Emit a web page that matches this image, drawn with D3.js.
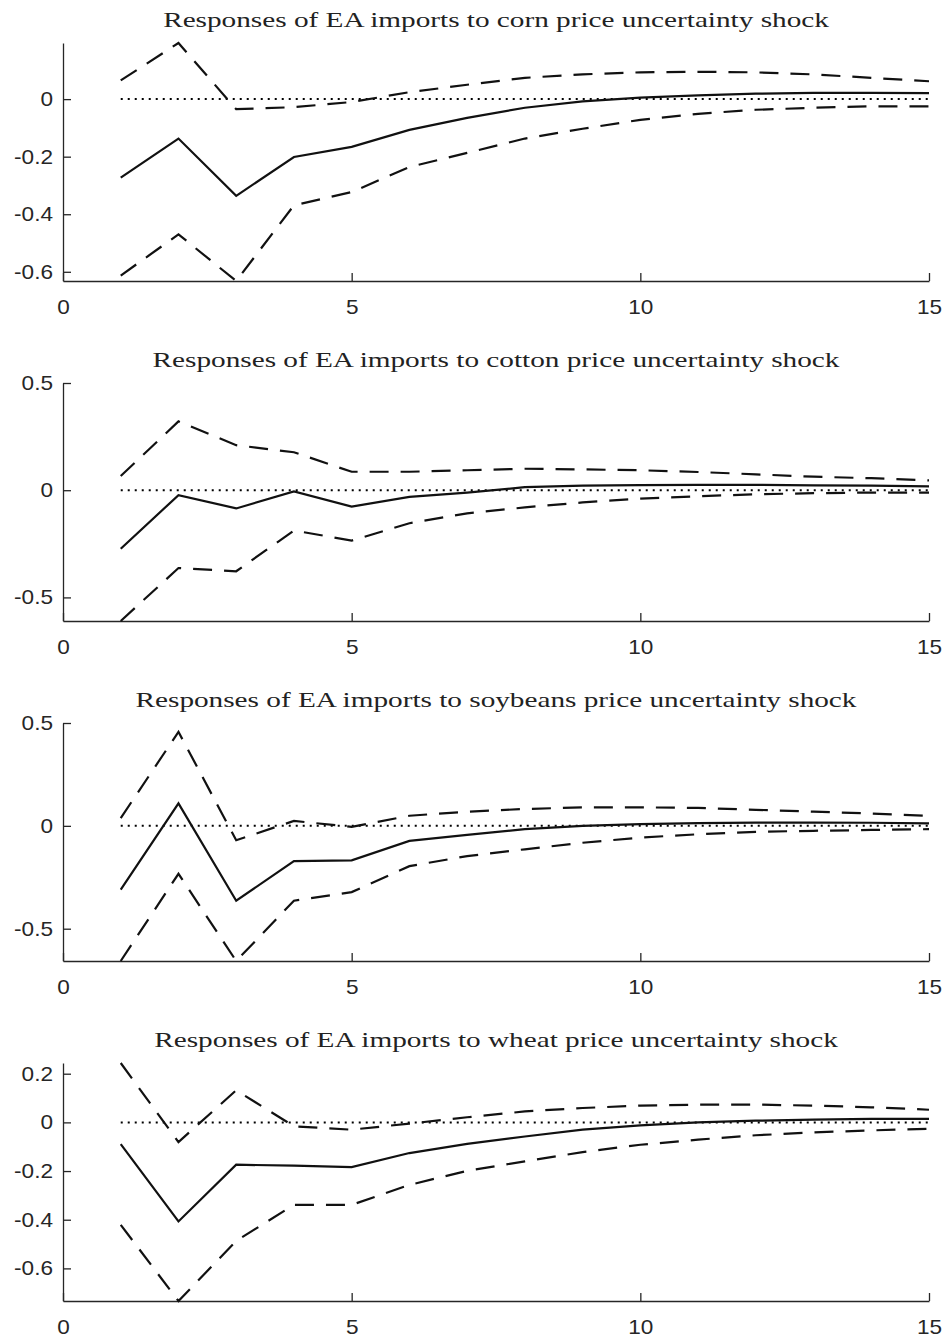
<!DOCTYPE html>
<html>
<head>
<meta charset="utf-8">
<script src="https://cdn.jsdelivr.net/npm/d3@7"></script>
<style>
  body { margin: 0; background: #fff; }
</style>
</head>
<body>
<div id="container"></div>
<script>
const width = 948;
const height = 1340;
const margin = { left: 63, right: 19 };
const panelTop = 43;
const panelStep = 340;
const panelHeight = 238;

// horizons and axis ticks
const horizons = [1, 2, 3, 4, 5, 6, 7, 8, 9, 10, 11, 12, 13, 14, 15];
const xDomain = [0, 15];
const xTicks = [0, 5, 10, 15];

const titles = [
  "Responses of EA imports to corn price uncertainty shock",
  "Responses of EA imports to cotton price uncertainty shock",
  "Responses of EA imports to soybeans price uncertainty shock",
  "Responses of EA imports to wheat price uncertainty shock",
];

// impulse responses with lower / upper bands
const cornIrf = [-0.273, -0.137, -0.336, -0.201, -0.166, -0.107, -0.065, -0.030, -0.008, 0.005, 0.013, 0.019, 0.022, 0.022, 0.021];
const cornLower = [-0.613, -0.470, -0.632, -0.369, -0.323, -0.236, -0.187, -0.137, -0.103, -0.072, -0.051, -0.037, -0.030, -0.025, -0.025];
const cornUpper = [0.065, 0.195, -0.035, -0.028, -0.010, 0.024, 0.050, 0.074, 0.086, 0.093, 0.095, 0.093, 0.086, 0.074, 0.062];

const cottonIrf = [-0.273, -0.023, -0.085, -0.006, -0.076, -0.031, -0.011, 0.014, 0.021, 0.024, 0.025, 0.025, 0.023, 0.021, 0.018];
const cottonLower = [-0.610, -0.363, -0.378, -0.188, -0.235, -0.154, -0.108, -0.080, -0.057, -0.039, -0.028, -0.019, -0.014, -0.011, -0.011];
const cottonUpper = [0.066, 0.321, 0.210, 0.177, 0.086, 0.086, 0.093, 0.100, 0.097, 0.093, 0.085, 0.074, 0.063, 0.056, 0.046];

const soybeansIrf = [-0.310, 0.109, -0.364, -0.171, -0.168, -0.073, -0.044, -0.016, 0.000, 0.008, 0.013, 0.016, 0.016, 0.015, 0.012];
const soybeansLower = [-0.657, -0.233, -0.657, -0.364, -0.322, -0.196, -0.147, -0.114, -0.082, -0.057, -0.041, -0.029, -0.024, -0.020, -0.016];
const soybeansUpper = [0.038, 0.457, -0.070, 0.024, -0.005, 0.049, 0.069, 0.082, 0.090, 0.090, 0.087, 0.078, 0.069, 0.060, 0.049];

const wheatIrf = [-0.089, -0.407, -0.174, -0.178, -0.184, -0.126, -0.088, -0.058, -0.030, -0.012, 0.000, 0.007, 0.011, 0.014, 0.014];
const wheatLower = [-0.421, -0.734, -0.487, -0.339, -0.339, -0.257, -0.199, -0.160, -0.122, -0.092, -0.071, -0.053, -0.041, -0.033, -0.026];
const wheatUpper = [0.244, -0.081, 0.132, -0.016, -0.030, -0.005, 0.021, 0.045, 0.059, 0.069, 0.073, 0.073, 0.069, 0.062, 0.052];

const yLimits = [
  [-0.632, 0.195],
  [-0.61, 0.5],
  [-0.657, 0.5],
  [-0.734, 0.244],
];
const yTicks = [
  [-0.6, -0.4, -0.2, 0],
  [-0.5, 0, 0.5],
  [-0.5, 0, 0.5],
  [-0.6, -0.4, -0.2, 0, 0.2],
];

const panels = [
  { irf: cornIrf, lower: cornLower, upper: cornUpper },
  { irf: cottonIrf, lower: cottonLower, upper: cottonUpper },
  { irf: soybeansIrf, lower: soybeansLower, upper: soybeansUpper },
  { irf: wheatIrf, lower: wheatLower, upper: wheatUpper },
];

const axisColor = "#262626";
const tickStretch = 1.13;
const titleStretch = 1.36;

const svg = d3
  .select("#container")
  .append("svg")
  .attr("width", width)
  .attr("height", height)
  .attr("viewBox", `0 0 ${width} ${height}`);

const x = d3
  .scaleLinear()
  .domain(xDomain)
  .range([margin.left, width - margin.right]);

panels.forEach((p, i) => {
  const top = panelTop + i * panelStep;
  const y = d3
    .scaleLinear()
    .domain(yLimits[i])
    .range([top + panelHeight, top]);

  const g = svg.append("g");

  // title
  g.append("text")
    .attr("transform", `translate(${(x.range()[0] + x.range()[1]) / 2},${top - 16}) scale(${titleStretch},1)`)
    .attr("text-anchor", "middle")
    .attr("font-family", "'Liberation Serif', serif")
    .attr("font-size", 21.5)
    .attr("fill", "#222")
    .text(titles[i]);

  // axes
  const xAxis = g
    .append("g")
    .attr("transform", `translate(0,${top + panelHeight})`)
    .call(
      d3.axisBottom(x).tickValues(xTicks).tickSizeInner(-8).tickSizeOuter(0).tickPadding(20).tickFormat((d) => String(d))
    );

  const yAxis = g
    .append("g")
    .attr("transform", `translate(${margin.left},0)`)
    .call(
      d3.axisLeft(y).tickValues(yTicks[i]).tickSizeInner(-8).tickSizeOuter(0).tickPadding(10).tickFormat((d) => String(d))
    );

  [xAxis, yAxis].forEach((ax) => {
    ax.select(".domain").attr("stroke", axisColor).attr("stroke-width", 1.3);
    ax.selectAll(".tick line").attr("stroke", axisColor).attr("stroke-width", 1.3);
    ax.selectAll(".tick text")
      .attr("fill", axisColor)
      .attr("font-family", "'Liberation Sans', Arial, sans-serif")
      .attr("font-size", 20);
  });

  xAxis.selectAll(".tick text")
    .attr("transform", `translate(0,19) scale(${tickStretch},1)`)
    .attr("y", 0);
  yAxis.selectAll(".tick text")
    .attr("transform", `translate(-10,0) scale(${tickStretch},1)`)
    .attr("x", 0);

  const line = d3
    .line()
    .x((d, j) => x(horizons[j]))
    .y((d) => y(d));

  // zero reference
  g.append("line")
    .attr("x1", x(horizons[0]))
    .attr("x2", x(horizons[horizons.length - 1]))
    .attr("y1", y(0))
    .attr("y2", y(0))
    .attr("stroke", "#000")
    .attr("stroke-width", 2)
    .attr("stroke-dasharray", "2,5");

  g.append("path")
    .datum(p.irf)
    .attr("d", line)
    .attr("fill", "none")
    .attr("stroke", "#111")
    .attr("stroke-width", 2.2);

  [p.lower, p.upper].forEach((band) => {
    g.append("path")
      .datum(band)
      .attr("d", line)
      .attr("fill", "none")
      .attr("stroke", "#111")
      .attr("stroke-width", 2.2)
      .attr("stroke-dasharray", "19,12");
  });
});
</script>
</body>
</html>
